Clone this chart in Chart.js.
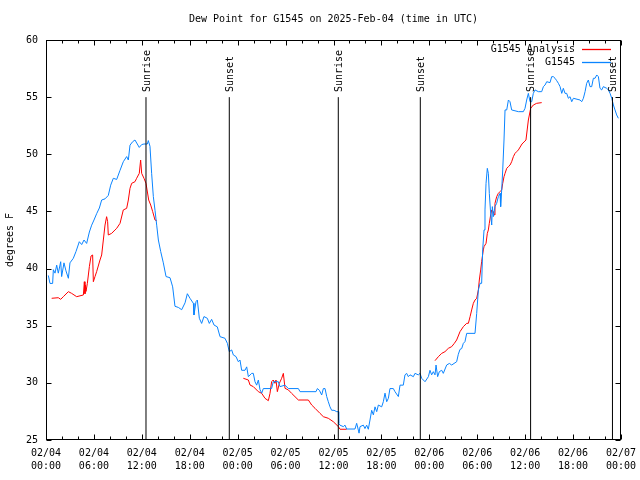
<!DOCTYPE html>
<html><head><meta charset="utf-8">
<script src="https://cdn.jsdelivr.net/npm/chart.js@4.4.1/dist/chart.umd.min.js"></script>
<style>html,body{margin:0;padding:0;background:#fff;}#wrap{width:640px;height:480px;}</style>
</head><body><div id="wrap"><canvas id="c" width="640" height="480"></canvas></div>
<script>
const titleText = 'Dew Point for G1545 on 2025-Feb-04 (time in UTC)';
const yAxisTitle = 'degrees F';
const seriesNames = ['G1545 Analysis', 'G1545'];
const tickDates = ['02/04','02/04','02/04','02/04','02/05','02/05','02/05','02/05','02/06','02/06','02/06','02/06','02/07'];
const tickTimes = ['00:00','06:00','12:00','18:00','00:00','06:00','12:00','18:00','00:00','06:00','12:00','18:00','00:00'];
const eventHours = [12.52, 22.95, 36.6, 46.87, 60.68, 70.93];
const eventNames = ['Sunrise','Sunset','Sunrise','Sunset','Sunrise','Sunset'];

// observations (hours since 02/04 00:00 UTC, degrees F)
const obsHours = [0.29,0.50,0.83,0.92,1.13,1.34,1.54,1.84,1.96,2.25,2.50,2.80,3.00,3.42,3.76,4.17,4.47,4.76,5.09,5.43,5.72,6.01,6.34,6.68,6.97,7.39,7.80,8.10,8.43,8.85,9.27,9.68,10.10,10.31,10.52,10.85,11.14,11.43,11.68,11.98,12.27,12.69,12.81,13.02,13.23,13.44,13.65,13.86,14.07,14.36,14.69,15.03,15.53,15.86,16.15,16.57,16.99,17.41,17.70,18.03,18.45,18.53,18.78,18.95,19.20,19.49,19.78,20.20,20.45,20.74,21.04,21.45,21.79,22.41,22.71,22.95,23.25,23.46,23.79,24.08,24.29,24.50,24.92,25.13,25.34,25.75,25.96,26.17,26.38,26.59,26.80,27.01,27.21,28.25,28.46,29.09,29.30,29.93,30.35,31.60,31.81,33.81,33.98,34.23,34.52,34.73,34.94,35.15,35.35,35.56,35.77,36.07,36.40,36.61,36.65,36.81,37.23,37.44,37.65,38.69,38.90,39.11,39.20,39.32,39.74,39.94,40.15,40.36,40.57,40.78,40.99,41.20,41.41,41.62,42.03,42.24,42.45,42.66,42.87,43.07,43.49,43.70,44.12,44.33,44.74,44.95,45.16,45.37,45.58,46.00,46.20,46.62,46.83,47.04,47.46,47.88,48.08,48.29,48.50,48.71,48.84,49.04,49.25,49.55,49.75,50.17,50.51,50.80,51.42,51.63,51.84,52.05,52.26,52.46,52.68,53.72,53.93,54.14,54.35,54.55,54.68,54.85,54.97,55.10,55.26,55.39,55.51,55.68,55.81,55.89,56.01,56.22,56.43,56.64,56.85,56.93,57.06,57.19,57.35,57.48,57.69,57.90,58.10,58.31,59.15,59.77,59.98,60.19,60.40,60.61,60.82,61.02,61.23,61.65,62.07,62.28,62.49,62.70,63.11,63.32,63.53,63.74,63.95,64.16,64.37,64.58,64.78,64.99,65.20,65.41,65.62,65.83,66.04,66.87,67.08,67.29,67.50,67.70,67.91,68.12,68.33,68.54,68.75,68.96,69.17,69.37,69.58,69.79,70.21,70.42,70.63,70.84,71.05,71.25,71.46,71.67];
const obsValues = [39.4,38.7,38.7,39.9,39.6,40.3,39.6,40.6,39.3,40.5,39.8,39.15,40.5,40.9,41.5,42.35,42.1,42.5,42.2,43.2,43.8,44.25,44.8,45.3,46.0,46.1,46.4,47.3,47.9,47.8,48.6,49.35,49.8,49.5,50.8,51.1,51.25,50.9,50.6,50.85,50.9,50.9,51.2,50.7,48.3,46.3,45.1,43.8,42.5,41.5,40.5,39.3,39.2,38.4,36.7,36.6,36.4,37.0,37.8,37.4,36.96,35.94,37.1,37.25,35.65,35.2,35.8,35.65,35.2,35.56,35.06,34.9,34.04,33.9,33.46,32.73,32.88,32.44,32.3,31.85,32.0,31.1,31.1,31.4,30.54,30.83,30.83,30.1,29.8,30.25,29.4,29.1,29.5,29.5,30.1,30.1,29.67,29.8,29.5,29.5,29.23,29.23,29.5,29.35,28.94,29.5,29.5,28.8,28.35,27.9,27.6,27.6,27.48,27.48,26.46,26.3,26.17,26.3,25.96,25.96,26.46,25.87,25.6,26.17,26.3,26.0,26.3,25.94,26.75,27.6,27.2,27.9,27.48,28.06,27.9,28.35,29.1,28.35,28.65,29.5,29.5,29.23,28.8,29.8,29.8,30.7,30.83,30.54,30.7,30.54,30.83,30.7,30.83,30.4,30.1,30.54,31.1,30.7,30.98,30.7,31.56,30.54,30.98,31.1,30.83,31.56,31.7,31.56,31.85,32.5,32.93,33.0,33.46,33.6,34.33,34.33,36.08,38.13,38.71,38.71,41.63,43.38,45.13,47.46,48.77,48.33,46.58,44.83,43.81,45.42,44.54,45.42,45.71,46.29,46.58,45.42,46.88,48.63,51.25,53.88,53.88,54.75,54.6,53.88,53.73,53.73,54.02,54.75,55.33,54.6,54.6,55.33,55.63,55.48,55.48,55.92,56.06,56.35,56.27,56.79,56.79,56.65,56.44,56.21,55.92,55.33,55.77,55.33,55.33,54.9,55.04,54.6,54.9,54.75,54.6,54.9,55.48,56.21,56.5,55.92,55.92,56.65,56.65,56.94,56.79,55.77,55.63,55.92,55.77,55.63,55.33,54.9,54.31,53.88,53.44,53.15];

// analysis (null = gap)
const anaHours = [0.71,1.54,1.84,2.17,2.80,3.21,3.84,4.68,4.80,4.88,4.93,5.01,5.18,5.43,5.64,5.84,5.93,6.13,6.34,6.76,6.97,7.18,7.39,7.59,7.72,7.80,8.22,8.64,8.85,9.27,9.68,10.10,10.31,10.52,10.73,11.14,11.35,11.68,11.85,11.98,12.27,12.52,12.86,13.11,13.36,13.65,13.86,
  19.0,
  24.71,25.34,25.55,25.96,26.59,27.01,27.42,27.84,28.05,28.25,28.46,28.67,28.80,28.97,29.22,29.51,29.72,29.93,30.35,30.76,31.18,31.60,32.43,32.85,33.27,33.69,34.31,34.73,35.35,35.98,36.61,36.82,37.65,
  43.0,
  48.71,49.13,49.55,49.96,50.38,50.80,51.13,51.42,51.84,52.26,52.68,52.89,53.10,53.30,53.51,53.72,53.93,54.14,54.26,54.43,54.55,54.76,54.85,55.10,55.26,55.39,55.51,55.68,55.81,56.01,56.14,56.22,56.43,56.64,56.85,57.06,57.19,57.35,57.48,57.69,57.90,58.11,58.31,58.52,58.73,58.94,59.15,59.60,60.10,60.40,60.69,61.02,61.44,62.07];
const anaValues = [37.4,37.45,37.31,37.54,37.98,37.83,37.54,37.69,38.85,37.8,38.56,38.0,38.71,40.17,41.1,41.19,38.85,39.29,39.73,40.75,41.19,42.5,43.81,44.54,44.1,42.94,43.08,43.38,43.52,43.96,45.13,45.27,46.0,47.02,47.46,47.6,47.9,48.33,49.5,48.33,47.9,47.46,46.0,45.56,44.98,44.25,44.19,
  null,
  30.4,30.25,29.81,29.67,29.23,29.08,28.65,28.44,29.08,30.1,30.25,29.96,30.25,29.23,29.96,30.4,30.83,29.52,29.38,29.08,28.79,28.5,28.5,28.5,28.06,27.77,27.33,27.04,26.9,26.6,26.17,25.94,25.94,
  null,
  31.94,32.29,32.58,32.73,33.02,33.17,33.46,33.75,34.48,34.92,35.21,35.21,35.79,36.38,36.96,37.25,37.4,38.13,39.0,39.88,40.6,41.63,41.92,42.21,43.08,43.38,43.96,44.69,45.13,44.98,44.69,45.71,46.29,46.58,46.73,46.88,47.46,48.04,48.33,48.77,48.92,49.06,49.35,49.79,50.08,50.23,50.38,50.9,51.25,53.0,54.02,54.31,54.46,54.52];

const FONT = '"DejaVu Sans Mono", monospace';
const RED = '#ff0000', BLUE = '#0a84ff';
const LINE_TOP = 55.0, LABEL_START = 55.45;

const toXY = (hs, vs) => hs.map((h, i) => ({x: h, y: vs[i]}));

const datasets = [
  {label: seriesNames[1], data: toXY(obsHours, obsValues), borderColor: BLUE, borderWidth: 1, pointRadius: 0, tension: 0, order: 1},
  {label: seriesNames[0], data: toXY(anaHours, anaValues), borderColor: RED, borderWidth: 1, pointRadius: 0, tension: 0, spanGaps: false, order: 2}
];
eventHours.forEach((h, i) => datasets.push({label: eventNames[i], data: [{x: h, y: 25}, {x: h, y: LINE_TOP}], borderColor: '#000', borderWidth: 1, pointRadius: 0, order: 0}));

const decor = {
  id: 'decor',
  afterDatasetsDraw(chart) {
    const {ctx, chartArea: a, scales: {x, y}} = chart;
    ctx.save();
    ctx.strokeStyle = '#000'; ctx.lineWidth = 1;
    const L = Math.round(a.left) + 0.5, R = Math.round(a.right) - 0.5, T = Math.round(a.top) + 0.5, B = Math.round(a.bottom) - 0.5;
    ctx.strokeRect(L, T, R - L, B - T);
    ctx.beginPath();
    for (let h = x.min; h <= x.max; h += 2) {
      const px = Math.round(x.getPixelForValue(h)) + 0.5;
      const len = (h % 6 === 0) ? 5 : 3;
      ctx.moveTo(px, B); ctx.lineTo(px, B - len);
      ctx.moveTo(px, T); ctx.lineTo(px, T + len);
    }
    for (let v = y.min; v <= y.max; v += 5) {
      const py = Math.round(y.getPixelForValue(v)) + 0.5;
      ctx.moveTo(L, py); ctx.lineTo(L + 5, py);
      ctx.moveTo(R, py); ctx.lineTo(R - 5, py);
    }
    ctx.stroke();
    ctx.fillStyle = '#000';
    ctx.font = '10px ' + FONT;
    ctx.textAlign = 'center'; ctx.textBaseline = 'middle';
    ctx.fillText(titleText, (a.left + a.right) / 2, 19);
    eventHours.forEach((h, i) => {
      ctx.save();
      ctx.translate(x.getPixelForValue(h) + 1, y.getPixelForValue(LABEL_START));
      ctx.rotate(-Math.PI / 2);
      ctx.textAlign = 'left'; ctx.textBaseline = 'middle';
      ctx.fillText(eventNames[i], 0, 0);
      ctx.restore();
    });
    const lx = a.right - 46;
    [[seriesNames[0], RED, 49], [seriesNames[1], BLUE, 62]].forEach(([t, c, ly]) => {
      ctx.textAlign = 'right'; ctx.textBaseline = 'middle'; ctx.fillStyle = '#000';
      ctx.fillText(t, lx, ly);
      ctx.lineWidth = 1.3;
      ctx.strokeStyle = c;
      ctx.beginPath();
      ctx.moveTo(lx + 7, ly + 0.5); ctx.lineTo(lx + 36, ly + 0.5);
      ctx.stroke();
    });
    ctx.restore();
  }
};

new Chart(document.getElementById('c'), {
  type: 'line',
  data: {datasets},
  options: {
    responsive: false, devicePixelRatio: 1, animation: false,
    layout: {padding: {left: 0, right: 19, top: 40, bottom: 0}},
    plugins: {legend: {display: false}, title: {display: false}, tooltip: {enabled: false}},
    scales: {
      x: {
        type: 'linear', min: 0, max: 72,
        grid: {display: false, drawTicks: false}, border: {display: false},
        ticks: {stepSize: 6, autoSkip: false, maxRotation: 0, padding: 7, color: '#000',
          font: {family: FONT, size: 10, lineHeight: 1.3},
          callback: (v) => [tickDates[Math.round(v / 6)], tickTimes[Math.round(v / 6)]]},
        afterFit: (s) => { s.height = 40; s.paddingLeft = 0; s.paddingRight = 0; }
      },
      y: {
        min: 25, max: 60,
        grid: {display: false, drawTicks: false}, border: {display: false},
        ticks: {stepSize: 5, padding: 8, color: '#000', font: {family: FONT, size: 10}},
        title: {display: true, text: yAxisTitle, color: '#000', padding: {top: 4, bottom: 0}, font: {family: FONT, size: 10}},
        afterFit: (s) => { s.width = 46; s.paddingTop = 0; s.paddingBottom = 0; }
      }
    }
  },
  plugins: [decor]
});
</script></body></html>
